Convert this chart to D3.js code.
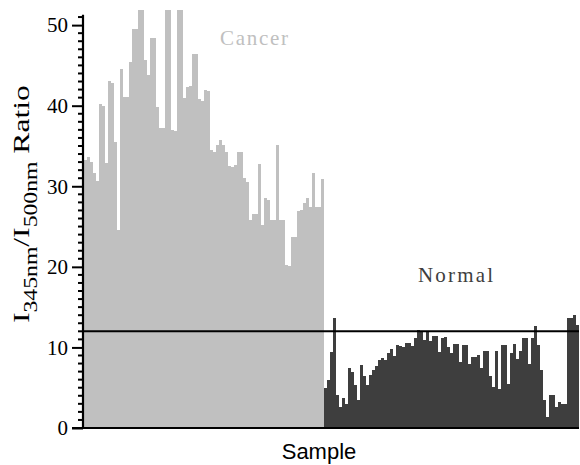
<!DOCTYPE html>
<html><head><meta charset="utf-8">
<script src="https://cdn.jsdelivr.net/npm/d3@7/dist/d3.min.js"></script>
<style>body{margin:0;background:#fff}svg{display:block}</style>
</head><body>
<svg id="chart" width="580" height="465"></svg>
<script>
const cancerValues = [33.3,33.6,33.0,31.6,30.6,40.2,40.0,32.9,43.1,42.8,35.5,24.6,44.6,41.1,41.1,45.4,49.5,49.5,53,53,45.7,43.8,48.4,48.4,39.8,37.2,37.2,53,53,37.0,36.8,53,53,40.9,42.3,42.5,46.4,46.4,40.8,40.6,41.9,41.8,34.5,34.3,35.1,35.7,35.1,34.2,32.5,32.4,32.6,34.3,34.3,31.0,30.5,25.8,26.5,26.5,32.8,25.2,28.5,28.3,25.8,25.8,35.1,25.8,25.8,20.2,20.1,23.7,23.7,26.9,27.0,27.9,28.5,27.4,31.6,27.4,27.4,30.9];
const normalValues = [5.0,6.0,9.4,13.6,4.1,2.6,3.7,3.0,7.4,7.0,5.3,3.5,7.8,6.5,5.3,6.6,7.2,7.7,8.5,8.7,8.4,9.3,9.8,8.9,10.3,10.2,10.1,10.5,10.5,10.2,11.2,12.2,12.0,10.9,11.9,10.8,11.4,11.4,9.4,11.2,11.3,10.1,9.3,10.4,10.4,8.2,10.3,10.3,8.0,8.8,8.8,9.0,7.4,9.5,9.5,6.4,5.1,9.6,4.9,10.3,10.3,5.4,9.3,10.4,8.6,9.6,11.2,11.2,8.0,11.2,12.6,10.3,7.2,3.5,1.4,4.1,4.1,2.6,3.2,3.0,3.0,13.6,13.6,14.0,12.8];
const thresholdValue = 12;
const yTickValues = [0,10,20,30,40,50];
const groupLabels = ["Cancer","Normal"];
const xLabel = "Sample";

const svg = d3.select("#chart");
const samples = cancerValues.map(v=>({g:"Cancer",v})).concat(normalValues.map(v=>({g:"Normal",v})));
samples.forEach((d,i)=>d.i=i);

const x = d3.scaleBand().domain(samples.map(d=>d.i)).range([84,579]).padding(0);
const y = d3.scaleLinear().domain([0,52]).range([428,9]);
const color = {Cancer:"#c0c0c0", Normal:"#3e3e3e"};

svg.append("clipPath").attr("id","clip").append("rect").attr("x",83).attr("y",10).attr("width",497).attr("height",420);

svg.append("g").attr("clip-path","url(#clip)").attr("shape-rendering","crispEdges")
  .selectAll("rect").data(samples).join("rect")
  .attr("x",d=>x(d.i)).attr("width",x.bandwidth()+0.4)
  .attr("y",d=>y(d.v)).attr("height",d=>y(0)-y(d.v))
  .attr("fill",d=>color[d.g]);

// threshold line
svg.append("line").attr("x1",83).attr("x2",579).attr("y1",y(thresholdValue)).attr("y2",y(thresholdValue))
  .attr("stroke","#000").attr("stroke-width",2);

// y axis
const yAxis = d3.axisLeft(y).tickValues(yTickValues).tickSize(11).tickPadding(4);
const yg = svg.append("g").attr("transform","translate(83,0)").call(yAxis);
yg.select(".domain").remove();
yg.selectAll(".tick line").attr("stroke-width",2);
yg.selectAll(".tick text").attr("font-family","Liberation Serif, Times New Roman, serif").attr("font-size",21).attr("fill","#000");
const minor = d3.range(0,52);
svg.append("g").selectAll("line").data(minor.filter(v=>v%10!==0)).join("line")
  .attr("x1",78).attr("x2",83).attr("y1",d=>y(d)).attr("y2",d=>y(d)).attr("stroke","#000").attr("stroke-width",2);
svg.append("line").attr("x1",83).attr("x2",83).attr("y1",y(51.3)).attr("y2",y(0)+1).attr("stroke","#000").attr("stroke-width",2.2);
// x axis line
svg.append("line").attr("x1",72).attr("x2",579).attr("y1",y(0)).attr("y2",y(0)).attr("stroke","#000").attr("stroke-width",2);

// group labels
svg.append("text").attr("x",220).attr("y",45).attr("font-family","Liberation Serif, serif").attr("font-size",21)
  .attr("fill","#c0c0c0").attr("textLength",68).attr("lengthAdjust","spacing").text(groupLabels[0]);
svg.append("text").attr("x",418).attr("y",282).attr("font-family","Liberation Serif, serif").attr("font-size",21)
  .attr("fill","#3e3e3e").attr("textLength",75).attr("lengthAdjust","spacing").text(groupLabels[1]);

// x label
svg.append("text").attr("x",319).attr("y",459).attr("text-anchor","middle").attr("font-family","Liberation Sans, Arial, sans-serif")
  .attr("font-size",22).attr("fill","#000").text(xLabel);

// y label
const yl = svg.append("g");
const t = yl.append("text").attr("font-family","Liberation Serif, serif").attr("font-size",24).attr("fill","#000");
t.append("tspan").text("I");
t.append("tspan").attr("font-size",18).attr("dy",8).text("345nm");
t.append("tspan").attr("dy",-8).text("/");
t.append("tspan").text("I");
t.append("tspan").attr("font-size",18).attr("dy",8).text("500nm");
t.append("tspan").attr("dy",-8).text(" Ratio");
const len = t.node().getComputedTextLength();
const s = 238/len;
yl.attr("transform",`translate(29,323) rotate(-90) scale(${s},1)`);
</script>
</body></html>
